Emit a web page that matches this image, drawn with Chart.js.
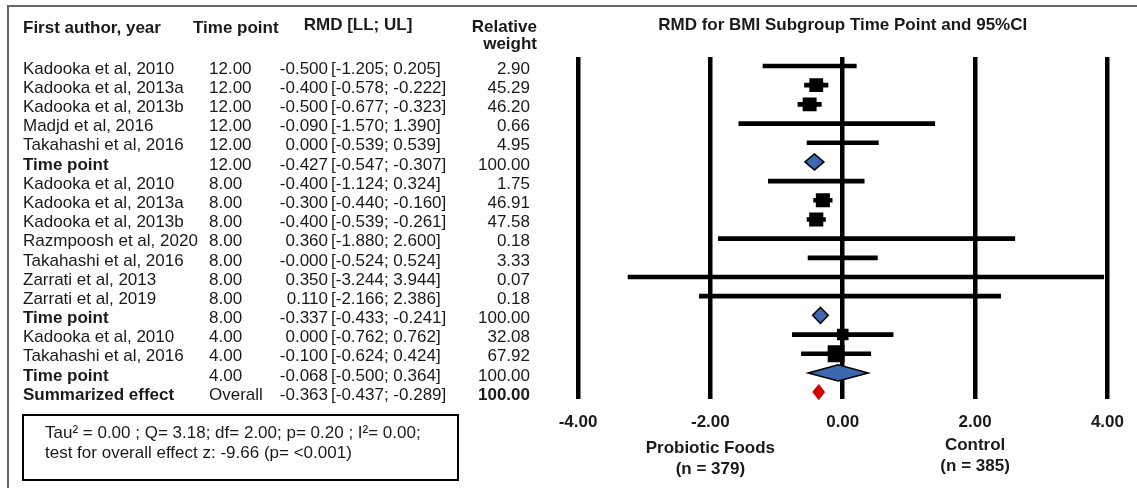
<!DOCTYPE html>
<html>
<head>
<meta charset="utf-8">
<script src="https://cdn.jsdelivr.net/npm/chart.js@4.4.1/dist/chart.umd.min.js"></script>
<style>
  html, body { margin: 0; padding: 0; background: #fff; }
  #wrap { width: 1137px; height: 488px; }
</style>
</head>
<body>
<div id="wrap"><canvas id="forest" width="1137" height="488"></canvas></div>
<script>
// Rows of the forest plot, top to bottom
const authors = [
  'Kadooka et al, 2010', 'Kadooka et al, 2013a', 'Kadooka et al, 2013b', 'Madjd et al, 2016',
  'Takahashi et al, 2016', 'Time point',
  'Kadooka et al, 2010', 'Kadooka et al, 2013a', 'Kadooka et al, 2013b', 'Razmpoosh et al, 2020',
  'Takahashi et al, 2016', 'Zarrati et al, 2013', 'Zarrati et al, 2019', 'Time point',
  'Kadooka et al, 2010', 'Takahashi et al, 2016', 'Time point', 'Summarized effect'
];
const timePoints = [
  '12.00', '12.00', '12.00', '12.00', '12.00', '12.00',
  '8.00', '8.00', '8.00', '8.00', '8.00', '8.00', '8.00', '8.00',
  '4.00', '4.00', '4.00', 'Overall'
];
const rmd = [-0.500, -0.400, -0.500, -0.090, 0.000, -0.427,
  -0.400, -0.300, -0.400, 0.360, -0, 0.350, 0.110, -0.337,
  0.000, -0.100, -0.068, -0.363];
const lower = [-1.205, -0.578, -0.677, -1.570, -0.539, -0.547,
  -1.124, -0.440, -0.539, -1.880, -0.524, -3.244, -2.166, -0.433,
  -0.762, -0.624, -0.500, -0.437];
const upper = [0.205, -0.222, -0.323, 1.390, 0.539, -0.307,
  0.324, -0.160, -0.261, 2.600, 0.524, 3.944, 2.386, -0.241,
  0.762, 0.424, 0.364, -0.289];
const weights = [2.90, 45.29, 46.20, 0.66, 4.95, 100.00,
  1.75, 46.91, 47.58, 0.18, 3.33, 0.07, 0.18, 100.00,
  32.08, 67.92, 100.00, 100.00];
const rowTypes = ['study', 'study', 'study', 'study', 'study', 'subtotal',
  'study', 'study', 'study', 'study', 'study', 'study', 'study', 'subtotal',
  'study', 'study', 'subtotal', 'overall'];

const xTicks = [-4, -2, 0, 2, 4];
const sideAt = [-2, 2];
const sideLabels = [['Probiotic Foods', '(n = 379)'], ['Control', '(n = 385)']];
const statLines = [
  'Tau\u00b2 = 0.00 ; Q= 3.18; df= 2.00; p= 0.20 ; I\u00b2= 0.00;',
  'test for overall effect z: -9.66 (p= <0.001)'
];

const FONT = "'Liberation Sans', Arial, sans-serif";
const INK = '#1a1a1a';

function fmt(v) {
  return (Object.is(v, -0) ? '-' : '') + v.toFixed(3);
}

// study rows only (subtotals are diamonds)
const studyIdx = rowTypes.map((t, i) => t === 'study' ? i : -1).filter(i => i >= 0);
const ciData = studyIdx.map(i => ({ y: i, x: [lower[i], upper[i]] }));
const pointData = studyIdx.map(i => ({ y: i, x: rmd[i], w: weights[i] }));

// table, frame, diamonds and notes
const forestDecor = {
  id: 'forestDecor',
  afterDatasetsDraw(chart) {
    const { ctx, scales: { x, y } } = chart;
    ctx.save();
    rowTypes.forEach((t, i) => {
      if (t === 'study') return;
      const cy = y.getPixelForValue(i);
      const h = Math.abs(y.getPixelForValue(i + 0.42) - cy);
      const xl = x.getPixelForValue(lower[i]);
      const xr = x.getPixelForValue(upper[i]);
      const xc = x.getPixelForValue(rmd[i]);
      ctx.beginPath();
      ctx.moveTo(xl - 1.5, cy);
      ctx.lineTo(xc, cy - h);
      ctx.lineTo(xr + 1.5, cy);
      ctx.lineTo(xc, cy + h);
      ctx.closePath();
      if (t === 'overall') {
        ctx.fillStyle = '#d00000';
        ctx.fill();
      } else {
        ctx.fillStyle = '#3c68b0';
        ctx.fill();
        ctx.lineWidth = 1.5;
        ctx.strokeStyle = '#000';
        ctx.stroke();
      }
    });
    ctx.restore();
  },
  afterDraw(chart) {
    const { ctx, chartArea, scales: { x, y } } = chart;
    ctx.save();
    // frame
    ctx.strokeStyle = '#666';
    ctx.lineWidth = 2;
    ctx.beginPath();
    ctx.moveTo(8, 488);
    ctx.lineTo(8, 6);
    ctx.lineTo(1137, 6);
    ctx.stroke();

    ctx.fillStyle = INK;
    ctx.textBaseline = 'middle';
    ctx.font = `bold 17px ${FONT}`;
    ctx.textAlign = 'left';
    ctx.fillText('First author, year', 23, 28);
    ctx.fillText('Time point', 193, 28);
    ctx.textAlign = 'center';
    ctx.fillText('RMD [LL; UL]', 358, 25);
    ctx.fillText('RMD for BMI Subgroup Time Point and 95%CI', (chartArea.left + chartArea.right) / 2, 25);
    ctx.textAlign = 'right';
    ctx.fillText('Relative', 537, 27);
    ctx.fillText('weight', 537, 44);

    authors.forEach((name, i) => {
      const py = y.getPixelForValue(i) + 3;
      const strong = rowTypes[i] !== 'study';
      ctx.font = `${strong ? 'bold ' : ''}17px ${FONT}`;
      ctx.textAlign = 'left';
      ctx.fillText(name, 23, py);
      ctx.font = `17px ${FONT}`;
      ctx.fillText(timePoints[i], 209, py);
      ctx.textAlign = 'right';
      ctx.fillText(fmt(rmd[i]), 328, py);
      ctx.textAlign = 'left';
      ctx.fillText(`[${lower[i].toFixed(3)}; ${upper[i].toFixed(3)}]`, 331, py);
      ctx.textAlign = 'right';
      ctx.font = `${rowTypes[i] === 'overall' ? 'bold ' : ''}17px ${FONT}`;
      ctx.fillText(weights[i].toFixed(2), 530, py);
    });

    // group labels under the axis
    ctx.font = `bold 17px ${FONT}`;
    ctx.textAlign = 'center';
    sideAt.forEach((v, k) => {
      const px = x.getPixelForValue(v);
      const top = k === 0 ? 448 : 445;
      ctx.fillText(sideLabels[k][0], px, top);
      ctx.fillText(sideLabels[k][1], px, top + 21);
    });

    // heterogeneity box
    ctx.lineWidth = 2;
    ctx.strokeStyle = '#000';
    ctx.strokeRect(23, 415, 435, 65);
    ctx.font = `17px ${FONT}`;
    ctx.textAlign = 'left';
    statLines.forEach((s, k) => ctx.fillText(s, 45, 433 + k * 20));
    ctx.restore();
  }
};

Chart.defaults.font.family = FONT;
Chart.defaults.color = INK;

new Chart(document.getElementById('forest'), {
  type: 'scatter',
  data: {
    datasets: [
      {
        type: 'bar',
        indexAxis: 'y',
        data: ciData,
        backgroundColor: '#000',
        barThickness: 4,
        borderWidth: 0
      },
      {
        type: 'scatter',
        data: pointData,
        pointStyle: 'rect',
        pointRadius: c => Math.max(1.5, 1.45 * Math.sqrt(c.raw.w)),
        backgroundColor: '#000',
        borderWidth: 0
      }
    ]
  },
  options: {
    responsive: false,
    animation: false,
    layout: { padding: { left: 578, right: 27, top: 57, bottom: 0 } },
    plugins: { legend: { display: false }, tooltip: { enabled: false } },
    scales: {
      x: {
        type: 'linear',
        min: -4,
        max: 4,
        afterBuildTicks: s => { s.ticks = xTicks.map(v => ({ value: v })); },
        afterFit: s => { s.height = 89; },
        grid: { color: '#000', lineWidth: 4.5, drawTicks: false },
        border: { display: false },
        ticks: {
          padding: 13,
          color: INK,
          font: { size: 17, weight: 'bold' },
          callback: v => v.toFixed(2)
        }
      },
      y: {
        type: 'linear',
        min: -0.47,
        max: 17.36,
        reverse: true,
        offset: false,
        display: false
      }
    }
  },
  plugins: [forestDecor]
});
</script>
</body>
</html>
